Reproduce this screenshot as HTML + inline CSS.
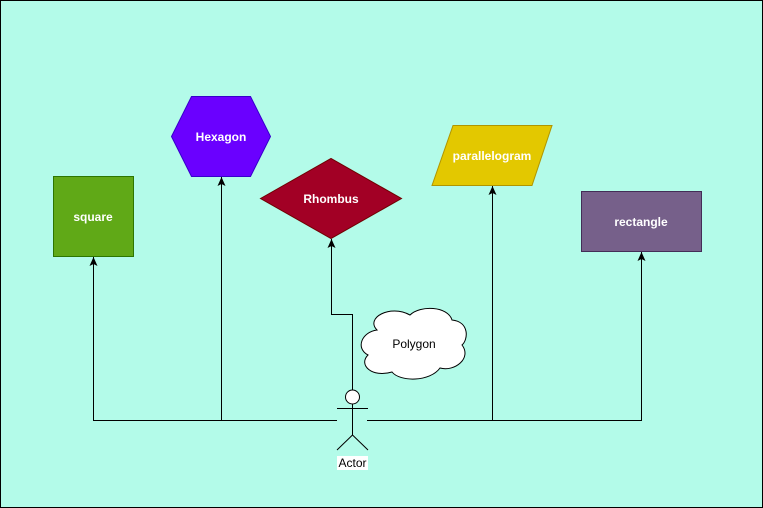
<!DOCTYPE html>
<html><head><meta charset="utf-8"><style>
html,body{margin:0;padding:0;width:763px;height:508px;overflow:hidden;background:#b3fbe9}
svg{display:block}
text{font-family:"Liberation Sans",sans-serif;font-size:12px}
.w{font-weight:bold}
</style></head><body>
<svg width="763" height="508" viewBox="0 0 763 508" xmlns="http://www.w3.org/2000/svg">
<defs><marker id="a" markerWidth="10" markerHeight="10" refX="9" refY="5" orient="auto" markerUnits="userSpaceOnUse"><path d="M0,1 L9,5 L0,9 L2,5 Z" fill="#000"/></marker></defs>
<rect x="0.5" y="0.5" width="762" height="507" fill="#b3fbe9" stroke="#000" stroke-width="1"/>
<rect x="53.5" y="176.5" width="80" height="80" fill="#60a917" stroke="#2d7600"/>
<text class="w" x="93" y="221" fill="#fff" text-anchor="middle">square</text>
<polygon points="171.5,136.5 191.5,96.5 250.5,96.5 270.5,136.5 250.5,176.5 191.5,176.5" fill="#6a00ff" stroke="#3700cc"/>
<text class="w" x="221" y="141" fill="#fff" text-anchor="middle">Hexagon</text>
<polygon points="260.5,198.5 331,158.5 401.5,198.5 331,238.5" fill="#a20025" stroke="#6f0000"/>
<text class="w" x="331" y="203" fill="#fff" text-anchor="middle">Rhombus</text>
<polygon points="453,125.5 552,125.5 532,185.5 432,185.5" fill="#e3c800" stroke="#b09500"/>
<text class="w" x="492" y="160" fill="#fff" text-anchor="middle">parallelogram</text>
<rect x="581.5" y="191.5" width="120" height="60" fill="#76608a" stroke="#432d57"/>
<text class="w" x="641" y="226" fill="#fff" text-anchor="middle">rectangle</text>
<path d="M377,330 C365,318 390,304 410,315 C420,305 448,306 452,320 C470,322 468,340 462,345 C472,358 455,372 440,368 C430,382 400,382 392,372 C372,378 358,365 368,355 C355,348 362,332 377,330 Z" fill="#fff" stroke="#000"/>
<text x="414" y="348" fill="#000" text-anchor="middle">Polygon</text>
<g fill="none" stroke="#000" stroke-width="1">
<path d="M337,420.5 H93.5 V257" marker-end="url(#a)"/>
<path d="M221.5,420.5 V177" marker-end="url(#a)"/>
<path d="M367,420.5 H641.5 V252" marker-end="url(#a)"/>
<path d="M492.5,420.5 V186" marker-end="url(#a)"/>
<path d="M352.5,390 V314.5 H331.5 V239" marker-end="url(#a)"/>
</g>
<g fill="none" stroke="#000">
<circle cx="352.5" cy="397" r="7" fill="#fff"/>
<path d="M352.5,404 V435 M337,408.5 H368 M352.5,435 L337,450 M352.5,435 L368,450"/>
</g>
<rect x="337" y="456" width="31" height="14" fill="#fff"/>
<text x="352.5" y="467" fill="#000" text-anchor="middle">Actor</text>
</svg>
</body></html>
